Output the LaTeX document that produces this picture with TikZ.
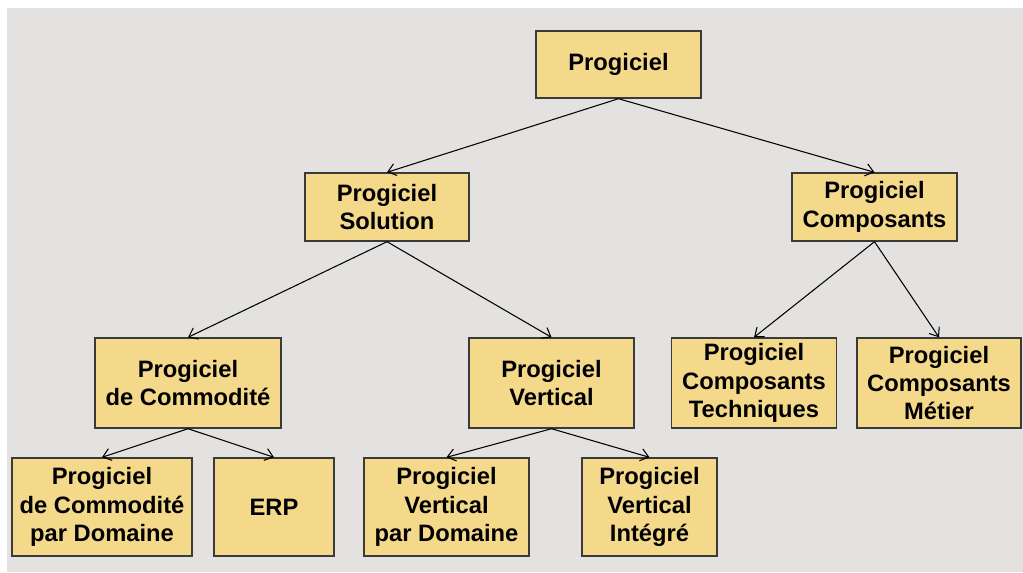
\documentclass[tikz,border=0pt]{standalone}
\usepackage{fontspec}
\setmainfont{Liberation Sans}
\usepackage{tikz}
\usetikzlibrary{arrows.meta}
\definecolor{bgrey}{HTML}{E3E2E0}
\definecolor{boxfill}{HTML}{F4D98A}
\definecolor{boxline}{HTML}{3A3A3A}

\begin{document}
\begin{tikzpicture}[
        x=0.02cm, y=-0.02cm,
        box/.style = {draw=boxline, fill=boxfill, rectangle, line width=0.8pt, align=center, inner sep=0pt,
                      font=\fontsize{13.5}{16.2}\selectfont\bfseries},
        arrow/.style = {draw=black, line width=0.6pt, -{Straight Barb[length=4.5pt, width=7pt]}}
    ]

        % Background
        \useasboundingbox (0,0) rectangle (1023,572);
        \fill[bgrey] (7,8) rectangle (1023,572);

        % Root
        \node (progiciel) [box, minimum width=3.3cm, minimum height=1.34cm] at (618.5,64.5) {Progiciel};

        % Second level
        \node (solution) [box, minimum width=3.28cm, minimum height=1.36cm] at (387,207) {Progiciel\\Solution};
        \node (composants) [box, minimum width=3.3cm, minimum height=1.36cm] at (874.5,207) {Progiciel\\Composants};

        % Third level
        \node (commodite) [box, minimum width=3.72cm, minimum height=1.8cm] at (188,383) {Progiciel\\de Commodité};
        \node (vertical) [box, minimum width=3.3cm, minimum height=1.8cm] at (551.5,383) {Progiciel\\Vertical};
        \node (techniques) [box, minimum width=3.3cm, minimum height=1.8cm] at (754,383) {Progiciel\\Composants\\Techniques};
        \node (metier) [box, minimum width=3.28cm, minimum height=1.8cm] at (939,383) {Progiciel\\Composants\\Métier};

        % Fourth level
        \node (comDomaine) [box, minimum width=3.6cm, minimum height=1.96cm] at (102,507) {Progiciel\\de Commodité\\par Domaine};
        \node (erp) [box, minimum width=2.4cm, minimum height=1.96cm] at (274,507) {ERP};
        \node (vertDomaine) [box, minimum width=3.3cm, minimum height=1.96cm] at (446.5,507) {Progiciel\\Vertical\\par Domaine};
        \node (integre) [box, minimum width=2.7cm, minimum height=1.96cm] at (649.5,507) {Progiciel\\Vertical\\Intégré};

        % Arrows
        \draw [arrow] (progiciel.south) -- (solution.north);
        \draw [arrow] (progiciel.south) -- (composants.north);
        \draw [arrow] (solution.south) -- (commodite.north);
        \draw [arrow] (solution.south) -- (vertical.north);
        \draw [arrow] (composants.south) -- (techniques.north);
        \draw [arrow] (composants.south) -- (metier.north);
        \draw [arrow] (commodite.south) -- (comDomaine.north);
        \draw [arrow] (commodite.south) -- (erp.north);
        \draw [arrow] (vertical.south) -- (vertDomaine.north);
        \draw [arrow] (vertical.south) -- (integre.north);

    \end{tikzpicture}
\end{document}
